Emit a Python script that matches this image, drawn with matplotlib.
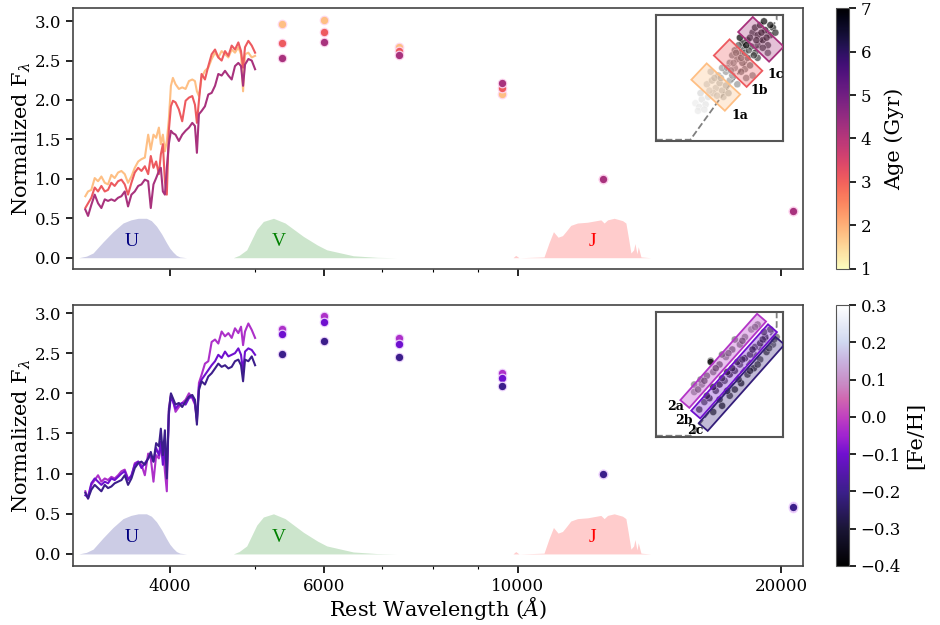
import numpy as np
import matplotlib
matplotlib.use("Agg")
import matplotlib.pyplot as plt
from matplotlib.colors import LinearSegmentedColormap, Normalize, to_rgba
from matplotlib.cm import ScalarMappable
from matplotlib.patches import Rectangle
from matplotlib.ticker import FixedLocator, NullFormatter, FixedFormatter, FuncFormatter

plt.rcParams['font.family'] = ['DejaVu Serif']
plt.rcParams['mathtext.fontset'] = 'dejavuserif'

# ---------------- data ----------------
wave_spec = [3202, 3225, 3253, 3282, 3311, 3340, 3370, 3399, 3429, 3459, 3490, 3521, 3552, 3583,
             3615, 3647, 3680, 3712, 3745, 3778, 3804, 3831, 3858, 3886, 3906, 3927, 3948, 3968,
             3989, 4011, 4032, 4060, 4096, 4132, 4169, 4206, 4243, 4273, 4295, 4318, 4348, 4387,
             4426, 4465, 4505, 4544, 4584, 4625, 4666, 4707, 4748, 4790, 4824, 4850, 4875, 4918,
             4962, 5006]

# top panel (age)
ages = [1.8, 3.1, 4.2]
spec_age_young = [0.78, 0.84, 0.86, 1.01, 0.97, 1.03, 0.95, 0.93, 1.05, 1.01, 1.08, 1.10, 1.06, 0.95,
                  1.03, 1.14, 1.22, 1.25, 1.27, 1.56, 1.37, 1.56, 1.52, 1.65, 1.44, 1.56, 1.35, 1.48,
                  1.75, 2.18, 2.28, 2.20, 2.14, 2.16, 2.14, 2.24, 2.26, 2.24, 2.11, 2.05, 2.28, 2.37,
                  2.41, 2.52, 2.60, 2.54, 2.62, 2.58, 2.54, 2.64, 2.60, 2.67, 2.58, 2.11, 2.58, 2.60,
                  2.54, 2.56]
spec_age_mid = [0.63, 0.69, 0.76, 0.89, 0.84, 0.91, 0.84, 0.86, 0.95, 0.91, 0.97, 0.99, 0.93, 0.80,
                0.95, 1.08, 1.14, 1.10, 1.16, 1.06, 1.29, 1.14, 1.22, 1.06, 1.31, 1.44, 0.97, 0.80,
                1.61, 1.92, 1.99, 1.97, 1.88, 1.73, 1.99, 2.03, 2.05, 1.94, 1.71, 1.99, 2.33, 2.26,
                2.43, 2.58, 2.64, 2.54, 2.50, 2.62, 2.56, 2.69, 2.64, 2.73, 2.62, 2.41, 2.67, 2.75,
                2.69, 2.60]
spec_age_old = [0.61, 0.53, 0.67, 0.80, 0.69, 0.63, 0.74, 0.72, 0.74, 0.72, 0.76, 0.78, 0.84, 0.65,
                0.80, 0.84, 0.91, 0.93, 0.99, 0.97, 0.63, 0.93, 1.01, 1.10, 1.14, 0.84, 0.80, 1.14,
                1.44, 1.61, 1.58, 1.56, 1.48, 1.56, 1.61, 1.65, 1.71, 1.67, 1.33, 1.82, 1.86, 1.92,
                2.07, 2.09, 2.18, 2.33, 2.31, 2.37, 2.31, 2.26, 2.43, 2.47, 2.43, 2.18, 2.45, 2.52,
                2.50, 2.39]

# bottom panel (metallicity)
fehs = [-0.03, -0.10, -0.20]
spec_feh_high = [0.78, 0.69, 0.86, 0.92, 0.98, 0.90, 0.94, 0.92, 0.96, 0.94, 0.98, 1.03, 1.05, 0.94,
                 0.96, 1.13, 1.15, 1.11, 0.98, 1.25, 1.19, 0.90, 1.23, 1.19, 1.32, 1.36, 1.03, 0.78,
                 1.81, 1.98, 1.92, 1.77, 1.83, 1.88, 1.92, 2.00, 1.94, 1.86, 1.65, 2.13, 2.23, 2.37,
                 2.40, 2.64, 2.67, 2.62, 2.77, 2.71, 2.75, 2.69, 2.81, 2.75, 2.83, 2.60, 2.77, 2.87,
                 2.79, 2.69]
spec_feh_mid = [0.73, 0.71, 0.88, 0.94, 0.90, 0.86, 0.90, 0.88, 0.94, 0.92, 0.96, 1.00, 1.03, 0.92,
                0.98, 1.11, 1.15, 1.07, 1.13, 1.19, 1.23, 1.15, 1.32, 1.23, 1.40, 1.11, 1.32, 1.03,
                1.73, 1.96, 1.90, 1.81, 1.86, 1.88, 1.86, 1.94, 1.96, 1.88, 1.69, 2.08, 2.17, 2.23,
                2.29, 2.35, 2.40, 2.48, 2.44, 2.52, 2.46, 2.48, 2.50, 2.56, 2.48, 2.27, 2.52, 2.56,
                2.54, 2.48]
spec_feh_low = [0.76, 0.69, 0.80, 0.86, 0.82, 0.78, 0.86, 0.82, 0.84, 0.88, 0.90, 0.92, 0.98, 0.86,
                0.94, 1.07, 1.13, 1.15, 1.11, 1.19, 1.27, 1.15, 1.38, 1.34, 1.56, 1.23, 1.54, 0.94,
                1.77, 2.00, 1.94, 1.86, 1.88, 1.83, 1.90, 1.96, 1.98, 1.92, 1.61, 2.04, 2.15, 2.11,
                2.21, 2.25, 2.31, 2.37, 2.33, 2.35, 2.31, 2.33, 2.40, 2.42, 2.35, 2.15, 2.42, 2.40,
                2.46, 2.35]

phot_wave = [5380, 6000, 7320, 9600, 12500, 20640]
phot_age_young = [2.96, 3.01, 2.67, 2.08, 1.00, 0.59]
phot_age_mid = [2.72, 2.86, 2.62, 2.15, 1.00, 0.59]
phot_age_old = [2.53, 2.73, 2.57, 2.22, 1.00, 0.59]
phot_feh_high = [2.80, 2.96, 2.69, 2.25, 1.00, 0.57]
phot_feh_mid = [2.74, 2.89, 2.62, 2.19, 1.00, 0.60]
phot_feh_low = [2.49, 2.65, 2.45, 2.09, 1.00, 0.59]

# filter curves
u_wave = [3146, 3211, 3268, 3355, 3444, 3536, 3610, 3680, 3761, 3810, 3862, 3915, 3965, 4000,
          4035, 4070, 4107, 4180, 4303]
u_resp = [0.0, 0.02, 0.06, 0.20, 0.33, 0.44, 0.48, 0.50, 0.50, 0.47, 0.40, 0.30, 0.19, 0.12,
          0.07, 0.03, 0.01, 0.0, 0.0]
v_wave = [4727, 4800, 4897, 5028, 5116, 5254, 5418, 5685, 5900, 6046, 6482, 6900, 7276]
v_resp = [0.0, 0.03, 0.10, 0.36, 0.46, 0.50, 0.44, 0.27, 0.16, 0.10, 0.025, 0.005, 0.0]
j_wave = [9870, 9941, 10028, 10710, 10852, 10979, 11113, 11243, 11341, 11491, 11696, 12009,
          12439, 12547, 12660, 12883, 13171, 13286, 13367, 13463, 13559, 13606, 13678, 13725,
          13823, 14192]
j_resp = [0.0, 0.03, 0.0, 0.01, 0.19, 0.33, 0.26, 0.28, 0.33, 0.41, 0.44, 0.45,
          0.48, 0.44, 0.48, 0.50, 0.47, 0.44, 0.27, 0.06, 0.10, 0.18, 0.05, 0.14,
          0.01, 0.0]
band_names = ['U', 'V', 'J']
band_label_wave = [3616, 5323, 12180]
band_label_y = [0.21, 0.21, 0.21]

# inset 1 (age bins)
in1_x = [0.31, 0.34, 0.36, 0.39, 0.33, 0.41, 0.38,
         0.40, 0.44, 0.47, 0.50, 0.45, 0.52, 0.49, 0.55, 0.43, 0.53, 0.57, 0.58,
         0.55, 0.60, 0.62, 0.52, 0.64, 0.58,
         0.60, 0.64, 0.68, 0.66, 0.70, 0.72, 0.62, 0.74, 0.69, 0.76, 0.67, 0.71,
         0.68, 0.72, 0.75, 0.78, 0.80, 0.66,
         0.76, 0.80, 0.84, 0.78, 0.86, 0.82, 0.88, 0.90, 0.85, 0.92, 0.80, 0.88,
         0.35, 0.42, 0.48, 0.46, 0.51, 0.56, 0.61, 0.63, 0.67, 0.70, 0.73, 0.77,
         0.74, 0.79, 0.83, 0.87, 0.84, 0.90, 0.94, 0.71, 0.65, 0.59]
in1_y = [0.30, 0.27, 0.33, 0.29, 0.24, 0.35, 0.25,
         0.45, 0.48, 0.42, 0.46, 0.38, 0.40, 0.52, 0.44, 0.55, 0.35, 0.38, 0.48,
         0.55, 0.52, 0.58, 0.58, 0.45, 0.62,
         0.68, 0.65, 0.62, 0.70, 0.57, 0.66, 0.72, 0.60, 0.74, 0.52, 0.55, 0.50,
         0.78, 0.80, 0.75, 0.70, 0.66, 0.82,
         0.86, 0.84, 0.80, 0.90, 0.88, 0.92, 0.76, 0.84, 0.95, 0.90, 0.76, 0.70,
         0.38, 0.40, 0.36, 0.50, 0.50, 0.58, 0.62, 0.70, 0.66, 0.70, 0.72, 0.68,
         0.82, 0.80, 0.86, 0.82, 0.74, 0.92, 0.86, 0.76, 0.76, 0.56]
in1_age = [1.0, 1.2, 1.4, 1.3, 1.1, 1.6, 1.2,
           2.2, 2.6, 2.4, 2.8, 2.3, 2.7, 3.0, 2.9, 2.5, 2.6, 3.0, 3.2,
           3.4, 3.6, 3.8, 3.3, 3.5, 3.9,
           4.2, 4.4, 4.6, 4.8, 4.3, 5.0, 4.5, 4.7, 5.2, 4.1, 4.4, 4.0,
           6.5, 6.0, 5.8, 5.5, 5.6, 7.0,
           5.9, 6.2, 6.4, 6.1, 6.6, 6.3, 5.7, 6.0, 6.8, 6.2, 5.4, 5.2,
           1.8, 2.0, 2.4, 2.7, 3.0, 3.3, 3.7, 4.3, 4.6, 4.9, 5.3, 5.6,
           6.0, 6.2, 6.4, 6.1, 5.8, 6.5, 6.0, 6.8, 5.0, 3.6]
rect1_label = ['1a', '1b', '1c']
rect1_cx = [0.47, 0.646, 0.826]
rect1_cy = [0.428, 0.618, 0.807]
rect1_len = [0.177, 0.178, 0.166]
rect1_wid = [0.361, 0.359, 0.339]
rect1_ang = [47, 46, 46]
rect1_age = [1.8, 3.1, 4.2]
lab1_x = [0.66, 0.81, 0.94]
lab1_y = [0.20, 0.40, 0.53]
dash1_x = [0.0, 0.27, 0.95, 0.95]
dash1_y = [0.01, 0.01, 0.96, 1.0]

# inset 2 (metallicity bins)
in2_x = [0.30, 0.36, 0.40, 0.45, 0.50, 0.55, 0.60, 0.66, 0.70, 0.75, 0.80, 0.43, 0.52, 0.62,
         0.34, 0.38, 0.42, 0.47, 0.50, 0.54, 0.58, 0.62, 0.66, 0.70, 0.74, 0.78, 0.82, 0.86, 0.90, 0.56, 0.64,
         0.45, 0.52, 0.58, 0.62, 0.67, 0.72, 0.77, 0.82, 0.87, 0.92, 0.95, 0.85,
         0.43, 0.30, 0.35,
         0.33, 0.38, 0.47, 0.57, 0.68, 0.78, 0.40, 0.45, 0.52, 0.60, 0.68, 0.76, 0.84,
         0.50, 0.56, 0.65, 0.74, 0.80, 0.89, 0.93]
in2_y = [0.36, 0.42, 0.49, 0.52, 0.58, 0.64, 0.70, 0.74, 0.80, 0.86, 0.90, 0.61, 0.66, 0.78,
         0.22, 0.28, 0.31, 0.37, 0.42, 0.45, 0.50, 0.53, 0.58, 0.63, 0.66, 0.72, 0.75, 0.80, 0.86, 0.52, 0.60,
         0.20, 0.25, 0.33, 0.38, 0.43, 0.50, 0.55, 0.62, 0.68, 0.74, 0.80, 0.84,
         0.60, 0.42, 0.46,
         0.38, 0.45, 0.55, 0.67, 0.77, 0.88, 0.33, 0.40, 0.47, 0.55, 0.62, 0.70, 0.78,
         0.30, 0.37, 0.46, 0.53, 0.58, 0.71, 0.78]
in2_shade = [0.55, 0.6, 0.7, 0.65, 0.75, 0.6, 0.7, 0.65, 0.6, 0.55, 0.6, 0.8, 0.7, 0.65,
             0.85, 0.8, 0.9, 0.85, 0.95, 0.8, 0.9, 0.85, 0.8, 0.9, 0.85, 0.8, 0.9, 0.85, 0.8, 0.95, 0.9,
             0.9, 0.95, 0.85, 0.9, 0.95, 0.85, 0.9, 0.8, 0.85, 0.75, 0.7, 0.8,
             1.0, 0.6, 0.65,
             0.7, 0.75, 0.8, 0.7, 0.75, 0.6, 0.9, 0.95, 0.85, 0.9, 0.85, 0.9, 0.85,
             0.9, 0.95, 0.85, 0.9, 0.85, 0.8, 0.75]
rect2_label = ['2a', '2b', '2c']
rect2_cx = [0.5285, 0.6145, 0.6735]
rect2_cy = [0.6095, 0.525, 0.425]
rect2_len = [0.918, 0.918, 0.918]
rect2_wid = [0.094, 0.094, 0.094]
rect2_ang = [48.8, 48.8, 48.8]
rect2_feh = [-0.02, -0.10, -0.22]
lab2_x = [0.15, 0.22, 0.31]
lab2_y = [0.24, 0.135, 0.055]
dash2_x = [0.0, 0.27, 0.95, 0.95]
dash2_y = [0.01, 0.01, 0.88, 1.0]

# ---------------- styling ----------------
age_cmap = plt.get_cmap('magma_r')
age_norm = Normalize(1, 7)
feh_cmap = LinearSegmentedColormap.from_list('feh', [
    (0.0, '#000000'), (0.14, '#1a1535'), (0.28, '#3a1f88'), (0.43, '#7010d0'),
    (0.50, '#a024d0'), (0.57, '#c040c0'), (0.64, '#d066b0'), (0.71, '#c890c8'),
    (0.79, '#c8b4e0'), (0.86, '#d0d8f0'), (1.0, '#ffffff')])
feh_norm = Normalize(-0.4, 0.3)

band_fill = ['navy', 'green', 'red']
band_text = ['navy', 'green', 'red']

fig = plt.figure(figsize=(9.4, 6.25), dpi=100)
ax1 = fig.add_axes([0.0777, 0.570, 0.777, 0.417])
ax2 = fig.add_axes([0.0777, 0.0944, 0.777, 0.4176])

def style_axis(ax, show_labels):
    ax.set_xscale('log')
    ax.set_xlim(3100, 21200)
    ax.xaxis.set_major_locator(FixedLocator([4000, 6000, 10000, 20000]))
    ax.xaxis.set_minor_locator(FixedLocator([5000, 7000, 8000, 9000]))
    ax.xaxis.set_minor_formatter(NullFormatter())
    if show_labels:
        ax.xaxis.set_major_formatter(FixedFormatter(['4000', '6000', '10000', '20000']))
    else:
        ax.xaxis.set_major_formatter(NullFormatter())
    ax.set_yticks([0, 0.5, 1.0, 1.5, 2.0, 2.5, 3.0])
    ax.yaxis.set_major_formatter(FuncFormatter(lambda v, p: f'{v:.1f}'))
    ax.tick_params(which='major', direction='out', length=5, width=1.2, labelsize=12)
    ax.tick_params(which='minor', direction='out', length=2.5, width=0.8)
    for s in ax.spines.values():
        s.set_color('#444444')
        s.set_linewidth(1.2)
    ax.set_ylabel(r'Normalized F$_\lambda$', fontsize=15, labelpad=1)

def draw_filters(ax):
    for w, r, c, name, lw_, ly, tc in zip([u_wave, v_wave, j_wave], [u_resp, v_resp, j_resp],
                                          band_fill, band_names, band_label_wave, band_label_y, band_text):
        ax.fill_between(w, 0, r, color=c, alpha=0.2, lw=0)
        ax.text(lw_, ly, name, color=tc, fontsize=14, ha='center', va='center',
                family=['Liberation Serif', 'DejaVu Serif'])

# top panel
draw_filters(ax1)
for spec, a in zip([spec_age_young, spec_age_mid, spec_age_old], ages):
    ax1.plot(wave_spec, spec, color=age_cmap(age_norm(a)), lw=1.5)
for phot, a in zip([phot_age_young, phot_age_mid, phot_age_old], ages):
    ax1.scatter(phot_wave, phot, s=38, color=age_cmap(age_norm(a)),
                edgecolors=(1, 0.85, 0.95, 0.9), linewidths=0.9, zorder=3)
ax1.set_ylim(-0.14, 3.165)
style_axis(ax1, False)

# bottom panel
draw_filters(ax2)
for spec, f in zip([spec_feh_high, spec_feh_mid, spec_feh_low], fehs):
    ax2.plot(wave_spec, spec, color=feh_cmap(feh_norm(f)), lw=1.5)
for phot, f in zip([phot_feh_high, phot_feh_mid, phot_feh_low], fehs):
    ax2.scatter(phot_wave, phot, s=38, color=feh_cmap(feh_norm(f)),
                edgecolors=(0.95, 0.85, 1, 0.9), linewidths=0.9, zorder=3)
ax2.set_ylim(-0.15, 3.10)
style_axis(ax2, True)
ax2.set_xlabel(r'Rest Wavelength ($\AA$)', fontsize=15, labelpad=0)

# colorbars
cax1 = fig.add_axes([0.889, 0.570, 0.0138, 0.417])
cb1 = fig.colorbar(ScalarMappable(norm=age_norm, cmap=age_cmap), cax=cax1)
cb1.set_ticks([1, 2, 3, 4, 5, 6, 7])
cb1.set_label('Age (Gyr)', fontsize=15, labelpad=10)
cax2 = fig.add_axes([0.889, 0.0944, 0.0138, 0.4176])
cb2 = fig.colorbar(ScalarMappable(norm=feh_norm, cmap=feh_cmap), cax=cax2)
cb2.set_ticks([-0.4, -0.3, -0.2, -0.1, 0.0, 0.1, 0.2, 0.3])
cb2.ax.yaxis.set_major_formatter(FuncFormatter(lambda v, p: f'{v:.1f}'.replace('-', '\u2212') if abs(v) > 1e-9 else '0.0'))
cb2.set_label('[Fe/H]', fontsize=15)
for cb in (cb1, cb2):
    cb.outline.set_edgecolor('#555555')
    cb.ax.tick_params(labelsize=12, length=5, width=1.2)

# insets
def inset(rect_pos, px, py, pc, cmap_pts, vmin, vmax, dx, dy, rcx, rcy, rl, rw, ra, rcol, labs, lx, ly):
    ia = fig.add_axes(rect_pos)
    ia.set_xlim(0, 1)
    ia.set_ylim(0, 1)
    ia.set_xticks([])
    ia.set_yticks([])
    for s in ia.spines.values():
        s.set_color('#555555')
        s.set_linewidth(1.5)
    ia.plot(dx, dy, ls='--', color='gray', lw=1.3, zorder=1)
    ia.scatter(px, py, c=pc, cmap=cmap_pts, vmin=vmin, vmax=vmax, s=26, alpha=0.7,
               edgecolors=(1, 1, 1, 0.5), linewidths=0.4, zorder=2)
    for cx, cy, L, W, a, col in zip(rcx, rcy, rl, rw, ra, rcol):
        ia.add_patch(Rectangle((cx - L / 2, cy - W / 2), L, W, angle=a, rotation_point='center',
                               facecolor=to_rgba(col, 0.3), edgecolor=col, lw=1.3, zorder=3))
    for t, x, y in zip(labs, lx, ly):
        ia.text(x, y, t, fontsize=9, fontweight='bold', ha='center', va='center', zorder=4)
    return ia

inset([0.698, 0.7744, 0.135, 0.2016], in1_x, in1_y, in1_age, 'Greys', 0, 7,
      dash1_x, dash1_y, rect1_cx, rect1_cy, rect1_len, rect1_wid, rect1_ang,
      [age_cmap(age_norm(a)) for a in rect1_age], rect1_label, lab1_x, lab1_y)
inset([0.698, 0.3008, 0.135, 0.2], in2_x, in2_y, in2_shade, 'Greys', 0, 1,
      dash2_x, dash2_y, rect2_cx, rect2_cy, rect2_len, rect2_wid, rect2_ang,
      [feh_cmap(feh_norm(f)) for f in rect2_feh], rect2_label, lab2_x, lab2_y)

fig.savefig('out.png', dpi=100)
